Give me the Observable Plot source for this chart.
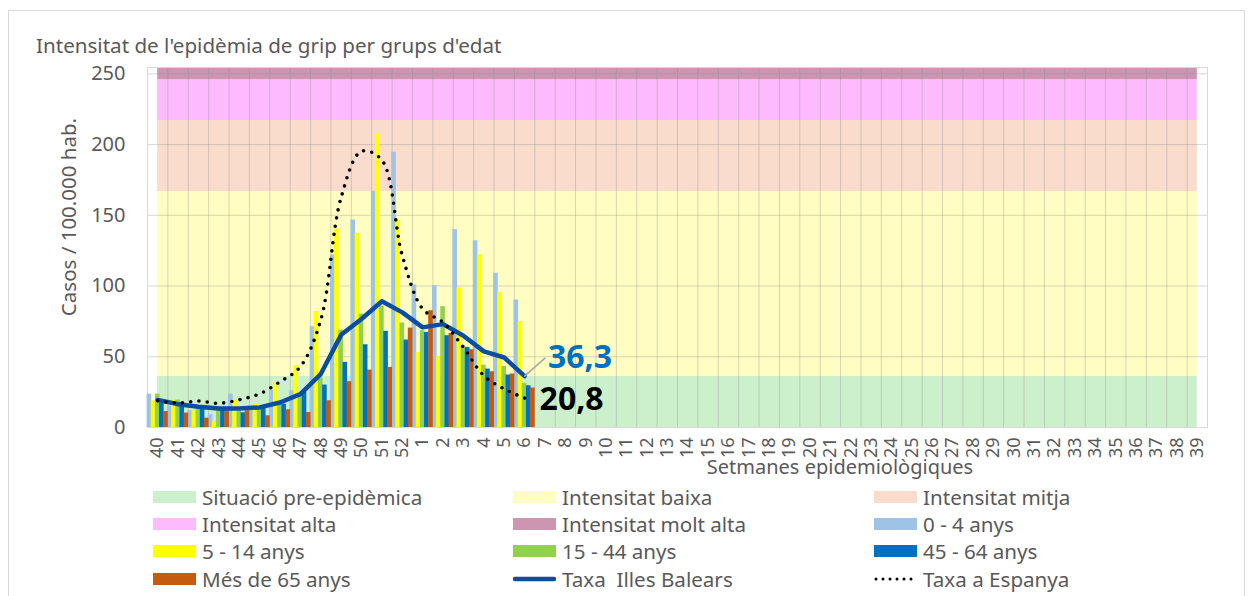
<!DOCTYPE html>
<html>
<head>
<meta charset="utf-8">
<script src="https://cdn.jsdelivr.net/npm/d3@7"></script>
<script src="https://cdn.jsdelivr.net/npm/@observablehq/plot@0.6"></script>
<style>
  html, body { margin: 0; padding: 0; background: #fff; }
  #wrap { position: relative; width: 1254px; height: 596px; overflow: hidden; font-family: "Noto Sans", sans-serif; color: #595959; }
  #border { position: absolute; left: 8px; top: 10px; width: 1237px; height: 640px; border: 1px solid #d9d9d9; box-sizing: border-box; }
  #chart { position: absolute; left: 0; top: 0; }
  #title { position: absolute; left: 36px; top: 35px; font-size: 20.6px; line-height: 20px; white-space: nowrap; color: #595959; }
  #ylabel { position: absolute; left: 68px; top: 217px; transform: translate(-50%, -50%) rotate(-90deg); font-size: 20.5px; white-space: nowrap; line-height: 20px; }
  #xlabel { position: absolute; left: 840px; top: 457px; transform: translateX(-50%); font-size: 20px; line-height: 20px; white-space: nowrap; }
  #legend { position: absolute; left: 153px; top: 483px; display: grid; grid-template-columns: 360px 361px 330px; grid-auto-rows: 27.4px; font-size: 20.6px; color: #595959; }
  .item { display: flex; align-items: center; white-space: pre; }
  .sw { width: 43px; height: 12px; margin-right: 6px; flex: none; }
  .sw svg { display: block; }
</style>
</head>
<body>
<div id="wrap">
  <div id="border"></div>
  <div id="chart"></div>
  <div id="title">Intensitat de l'epidèmia de grip per grups d'edat</div>
  <div id="ylabel">Casos / 100.000 hab.</div>
  <div id="xlabel">Setmanes epidemiològiques</div>
  <div id="legend"></div>
</div>
<script>
// ---- Data ----
const weeks = ["40","41","42","43","44","45","46","47","48","49","50","51","52",
  "1","2","3","4","5","6","7","8","9","10","11","12","13","14","15","16","17","18","19","20",
  "21","22","23","24","25","26","27","28","29","30","31","32","33","34","35","36","37","38","39"];
const dataWeeks = ["40","41","42","43","44","45","46","47","48","49","50","51","52","1","2","3","4","5","6"];

const age0_4   = [23.6, 15.0, 11.8,  9.0, 23.6, 12.0, 26.4, 26.0, 71.3, 122.0, 146.7, 167.0, 194.6, 100.7, 100.3, 139.9, 132.0, 109.0, 90.1];
const age5_14  = [18.9, 19.4, 11.8,  4.2, 19.4, 17.0, 32.5, 43.7, 82.0, 140.4, 137.3, 207.6, 146.7,  53.0,  50.3,  98.6, 122.2,  95.5, 75.0];
const age15_44 = [23.6, 19.4, 13.0, 13.0, 11.8, 14.8, 16.5, 22.0, 35.0,  68.9,  80.2,  86.0,  73.9,  68.4,  85.4,  57.8,  44.1,  43.2, 31.1];
const age45_64 = [17.0, 17.7, 15.0, 14.0, 10.4, 14.6, 16.5, 24.8, 30.0,  46.0,  58.5,  68.0,  61.8,  67.2,  64.9,  56.6,  41.3,  37.1, 29.5];
const age65    = [11.3, 10.2,  6.6, 11.8, 11.8,  8.3, 12.5, 10.6, 18.9,  32.4,  40.6,  42.5,  70.3,  82.6,  66.5,  55.0,  39.4,  37.8, 27.9];

const rateBalears = [19.4, 16.5, 14.6, 13.4, 13.4, 14.2, 17.7, 23.6, 37.8, 65.5, 76.7, 89.2, 81.4, 70.8, 73.1, 64.9, 53.8, 49.5, 36.3];
const rateSpain   = [18.9, 17.3, 18.7, 17.1, 19.6, 23.8, 32.3, 43.0, 76.0, 162.7, 195.3, 189.0, 121.5, 83.8, 74.3, 56.6, 36.6, 27.2, 20.8];

// intensity thresholds (Casos / 100.000 hab.)
const thresholds = [0, 36, 166.8, 217, 245.8, 254.5];
const bandNames  = ["Situació pre-epidèmica", "Intensitat baixa", "Intensitat mitja", "Intensitat alta", "Intensitat molt alta"];
const bandColors = ["#ccf0cc", "#fffdc1", "#f9dccb", "#fdbafd", "#cc96b2"];

const seriesNames  = ["0 - 4 anys", "5 - 14 anys", "15 - 44 anys", "45 - 64 anys", "Més de 65 anys"];
const seriesValues = [age0_4, age5_14, age15_44, age45_64, age65];
const seriesColors = ["#9dc3e6", "#ffff00", "#92d050", "#0070c0", "#c55a11"];

const yTicks = [0, 50, 100, 150, 200, 250];
const lineNames = ["Taxa  Illes Balears", "Taxa a Espanya"];
const balearsColor = "#0b4ea0";

// ---- Layout ----
const W = 1254, H = 470, mL = 147, mR = 47, mT = 67, mB = 43;
const bw = (W - mL - mR) / weeks.length;
const barW = 4.6, barStep = 4.15;
const inset = (bw - barW) / 2;

const fmt = v => v.toFixed(1).replace(".", ",");
const rows = vals => dataWeeks.map((w, i) => ({week: w, v: vals[i]}));

const marks = [];
// background intensity bands
for (let b = 0; b < bandNames.length; b++) {
  marks.push(Plot.areaY(weeks, {x: d => d, y1: () => thresholds[b], y2: () => thresholds[b + 1], fill: bandColors[b]}));
}
// grid
marks.push(Plot.ruleY(yTicks.filter(t => t > 0), {stroke: "#8c8c8c", strokeOpacity: 0.35}));
marks.push(Plot.ruleX(weeks.slice(1), {x: d => d, dx: -bw / 2, stroke: "#8c8c8c", strokeOpacity: 0.35}));
marks.push(Plot.frame({stroke: "#d9d9d9"}));
// bars
seriesValues.forEach((vals, i) => {
  marks.push(Plot.barY(rows(vals), {x: "week", y: "v", fill: seriesColors[i], dx: (i - 2) * barStep, insetLeft: inset, insetRight: inset}));
});
// lines
marks.push(Plot.line(rows(rateBalears), {x: "week", y: "v", stroke: balearsColor, strokeWidth: 4.5, strokeLinejoin: "round", strokeLinecap: "round"}));
marks.push(Plot.line(rows(rateSpain), {x: "week", y: "v", stroke: "#000", strokeWidth: 3.6, strokeDasharray: "0,8.3", strokeLinecap: "round", curve: "catmull-rom"}));
// annotations
const lastW = dataWeeks[dataWeeks.length - 1];
const nextW = weeks[weeks.indexOf(lastW) + 1];
const lastB = rateBalears[rateBalears.length - 1];
const lastS = rateSpain[rateSpain.length - 1];
marks.push(Plot.arrow([{x1: lastW, y1: lastB, x2: nextW, y2: lastB + 12.7}], {x1: "x1", y1: "y1", x2: "x2", y2: "y2", headLength: 0, stroke: "#a6a6a6", strokeWidth: 1.5}));
marks.push(Plot.text([{w: nextW, v: lastB + 12.7, t: fmt(lastB)}], {x: "w", y: "v", text: "t", dx: 3, textAnchor: "start", lineAnchor: "middle", fontSize: 32, fontWeight: "bold", fill: "#0070c0"}));
marks.push(Plot.text([{w: lastW, v: lastS, t: fmt(lastS)}], {x: "w", y: "v", text: "t", dx: 15, dy: 1.5, textAnchor: "start", lineAnchor: "middle", fontSize: 32, fontWeight: "bold", fill: "#000"}));
// axes
marks.push(Plot.axisY({ticks: yTicks, tickSize: 0, tickPadding: 22, fontSize: 20, fill: "#595959", label: null}));
marks.push(Plot.axisX({tickSize: 0, tickRotate: -90, tickPadding: 10, fontSize: 18, fill: "#595959", label: null}));

const chart = Plot.plot({
  width: W, height: H,
  marginLeft: mL, marginRight: mR, marginTop: mT, marginBottom: mB,
  x: {type: "band", domain: weeks, padding: 0, round: false},
  y: {domain: [0, thresholds[thresholds.length - 1]]},
  style: {fontFamily: "Noto Sans, sans-serif", background: "transparent", overflow: "visible"},
  marks
});
document.getElementById("chart").appendChild(chart);

// ---- Legend ----
const legendItems = [];
bandNames.forEach((n, i) => legendItems.push({name: n, kind: "box", color: bandColors[i]}));
seriesNames.forEach((n, i) => legendItems.push({name: n, kind: "box", color: seriesColors[i]}));
legendItems.push({name: lineNames[0], kind: "line", color: balearsColor});
legendItems.push({name: lineNames[1], kind: "dots", color: "#000"});
const legend = document.getElementById("legend");
legendItems.forEach(it => {
  const el = document.createElement("div");
  el.className = "item";
  const sw = document.createElement("div");
  sw.className = "sw";
  if (it.kind === "box") {
    sw.style.background = it.color;
  } else if (it.kind === "line") {
    sw.innerHTML = `<svg width="43" height="12"><line x1="2" x2="41" y1="6" y2="6" stroke="${it.color}" stroke-width="4.5" stroke-linecap="round"/></svg>`;
  } else {
    sw.innerHTML = `<svg width="43" height="12"><line x1="2" x2="41" y1="6" y2="6" stroke="${it.color}" stroke-width="3" stroke-dasharray="0,7" stroke-linecap="round"/></svg>`;
  }
  const tx = document.createElement("span");
  tx.textContent = it.name;
  el.appendChild(sw);
  el.appendChild(tx);
  legend.appendChild(el);
});
</script>
</body>
</html>
